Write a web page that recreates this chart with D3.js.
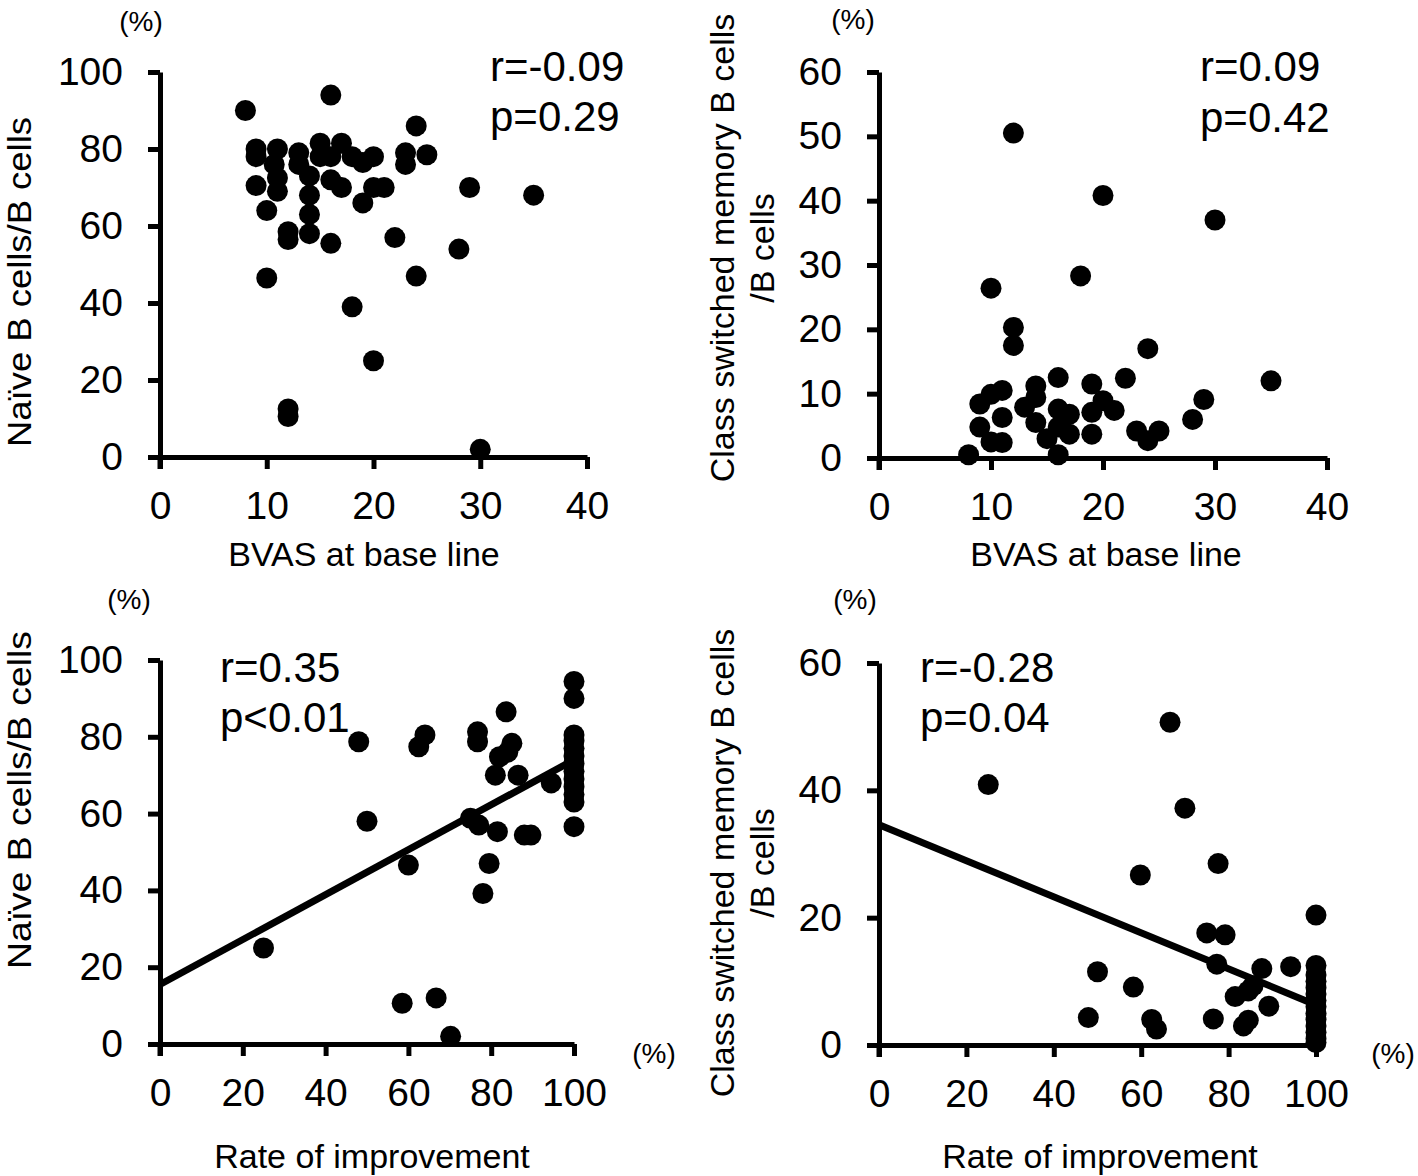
<!DOCTYPE html>
<html>
<head>
<meta charset="utf-8">
<script src="https://cdn.jsdelivr.net/npm/d3@7"></script>
<style>
  html, body { margin: 0; padding: 0; background: #fff; }
  svg text { font-family: "Liberation Sans", Arial, Helvetica, sans-serif; fill: #000; }
</style>
</head>
<body>
<svg id="chart" width="1418" height="1176"></svg>
<script>
// ---------- DATA ----------
// Panel A: BVAS at baseline vs Naive B cells/B cells (%)
const bvasA = [8,16,24,9,9,11,10.7,11,11,9,10,13,13,14,14,14,12,12,14,15,15,16,17,18,19,20,16,17,16,19,20,21,23,23,25,29,35,22,28,24,10,18,20,12,12,30];
const naiveA = [90,94,86,80,78,80,76,72.5,69,70.5,64,79,76,73,68,63,58.5,56.5,58,81.5,78,78,81.5,78,76.5,78,72,70,55.5,66,70,70,79,76,78.5,70,68,57,54,47,46.5,39,25,12.5,10.5,2];

// Panel B: BVAS at baseline vs Class switched memory B cells/B cells (%)
const bvasB = [12,20,30,18,10,12,12,24,35,22,16,19,14,16,14,11,10,9,11,9,11,10,8,13,14,15,17,17,19,19,20,21,16,23,24,25,28,29,16];
const csmB  = [50.5,40.8,37,28.3,26.4,20.3,17.5,17,12,12.4,12.5,11.5,11.2,7.6,9.4,10.5,9.9,8.4,6.3,4.8,2.4,2.5,0.5,7.9,5.5,3,6.8,3.7,3.7,7.1,8.9,7.4,0.5,4.2,2.7,4.2,6,9.1,4.8];

// Panel C: Rate of improvement vs Naive B cells/B cells (%)
const rateC  = [100,100,100,100,100,100,100,100,100,100,100,100,100,83.6,76.7,76.7,64,62.5,48,85,84,82,81,86.5,94.5,75,77,81.5,88,89.6,50,60,79.5,78,25,58.5,66.7,70.2];
const naiveC = [94.4,90,80.5,79,77,75,73,71,69,67,65,63,56.6,86.5,81.3,78.7,80.5,77.4,78.7,78.3,76,74.8,70,70,68,58.8,57,55.3,54.4,54.4,58,46.6,47,39.2,25,10.6,12,2];

// Panel D: Rate of improvement vs Class switched memory B cells/B cells (%)
const rateD = [25,66.6,70,77.6,59.8,100,75,79.2,77.3,50,87.6,94.2,58.2,85.6,81.5,84.5,89.2,47.9,62.4,63.5,76.5,83.4,84.5,100,100,100,100,100,100,100,100,100,100,100,100,100];
const csmD  = [40.9,50.7,37.2,28.5,26.7,20.4,17.6,17.3,12.7,11.5,12,12.3,9.1,9.3,7.6,8.5,6.1,4.3,4,2.5,4.1,3,3.9,12.5,11,10,9,8,7,6,5,4,3,2,1,0.4];

// Regression lines (x range and fitted y at ends)
const fitC = [[0, 15.5], [100, 74]];
const fitD = [[0, 34.6], [100, 6.3]];

// Tick values
const ticksBVAS = [0, 10, 20, 30, 40];
const ticksRate = [0, 20, 40, 60, 80, 100];
const ticksNaive = [0, 20, 40, 60, 80, 100];
const ticksCsmB = [0, 10, 20, 30, 40, 50, 60];
const ticksCsmD = [0, 20, 40, 60];

// Annotations
const statsA = ["r=-0.09", "p=0.29"];
const statsB = ["r=0.09", "p=0.42"];
const statsC = ["r=0.35", "p<0.01"];
const statsD = ["r=-0.28", "p=0.04"];

// ---------- DRAW ----------
const svg = d3.select("#chart");
const FONT = '"Liberation Sans", Arial, sans-serif';

const panels = [
  { xs: bvasA, ys: naiveA, xDom: [0, 40], yDom: [0, 100], xTicks: ticksBVAS, yTicks: ticksNaive,
    xr: [160, 587], yr: [457, 72], stats: statsA, statsX: 490, statsY: [81, 131],
    xLabel: "BVAS at base line", xLabelX: 364, yLabel: ["Naïve B cells/B cells"], yLabelLen: [330], fit: null,
    pctTop: [141, 31], pctRight: null, xLabelY: 566, yLabelX: [31], yLabelCy: 282 },
  { xs: bvasB, ys: csmB, xDom: [0, 40], yDom: [0, 60], xTicks: ticksBVAS, yTicks: ticksCsmB,
    xr: [879, 1327], yr: [458, 72], stats: statsB, statsX: 1200, statsY: [81, 132],
    xLabel: "BVAS at base line", xLabelX: 1106, yLabel: ["Class switched memory B cells", "/B cells"], yLabelLen: [null, null], fit: null,
    pctTop: [853, 29], pctRight: null, xLabelY: 566, yLabelX: [734, 774], yLabelCy: 248 },
  { xs: rateC, ys: naiveC, xDom: [0, 100], yDom: [0, 100], xTicks: ticksRate, yTicks: ticksNaive,
    xr: [160, 574], yr: [1044, 660], stats: statsC, statsX: 220, statsY: [682, 732],
    xLabel: "Rate of improvement", xLabelX: 372, yLabel: ["Naïve B cells/B cells"], yLabelLen: [338], fit: fitC,
    pctTop: [129, 609], pctRight: [654, 1063], xLabelY: 1168, yLabelX: [31], yLabelCy: 800 },
  { xs: rateD, ys: csmD, xDom: [0, 100], yDom: [0, 60], xTicks: ticksRate, yTicks: ticksCsmD,
    xr: [879, 1316], yr: [1045, 663], stats: statsD, statsX: 920, statsY: [682, 732],
    xLabel: "Rate of improvement", xLabelX: 1100, yLabel: ["Class switched memory B cells", "/B cells"], yLabelLen: [null, null], fit: fitD,
    pctTop: [855, 609], pctRight: [1393, 1063], xLabelY: 1168, yLabelX: [734, 774], yLabelCy: 863 }
];

panels.forEach(p => {
  const x = d3.scaleLinear().domain(p.xDom).range(p.xr);
  const y = d3.scaleLinear().domain(p.yDom).range(p.yr);
  const g = svg.append("g");

  // axes
  const yAxis = d3.axisLeft(y).tickValues(p.yTicks).tickSize(12).tickSizeOuter(0).tickPadding(25);
  const xAxis = d3.axisBottom(x).tickValues(p.xTicks).tickSize(12).tickSizeOuter(0).tickPadding(22);

  const gy = g.append("g").attr("transform", `translate(${x(p.xDom[0])},0)`).call(yAxis);
  const gx = g.append("g").attr("transform", `translate(0,${y(p.yDom[0])})`).call(xAxis);
  [gx, gy].forEach(a => {
    a.select(".domain").attr("stroke", "#000").attr("stroke-width", 5);
    a.selectAll(".tick line").attr("stroke", "#000").attr("stroke-width", 5);
    a.selectAll(".tick text").attr("font-size", 39).attr("fill", "#000").attr("font-family", FONT);
  });
  g.append("line").attr("x1", x(p.xDom[0])).attr("x2", x(p.xDom[0]))
    .attr("y1", y(p.yDom[0]) - 2).attr("y2", y(p.yDom[0]) + 12)
    .attr("stroke", "#000").attr("stroke-width", 5);

  // regression line
  if (p.fit) {
    g.append("line")
      .attr("x1", x(p.fit[0][0])).attr("y1", y(p.fit[0][1]))
      .attr("x2", x(p.fit[1][0])).attr("y2", y(p.fit[1][1]))
      .attr("stroke", "#000").attr("stroke-width", 7);
  }

  // points
  g.selectAll("circle.pt").data(p.xs.map((v, i) => [v, p.ys[i]]))
    .enter().append("circle").attr("class", "pt")
    .attr("cx", d => x(d[0])).attr("cy", d => y(d[1]))
    .attr("r", 10.5).attr("fill", "#000");

  // stats text
  p.stats.forEach((s, i) => {
    g.append("text").attr("x", p.statsX).attr("y", p.statsY[i])
      .attr("font-size", 42).text(s);
  });

  // (%) labels
  g.append("text").attr("x", p.pctTop[0]).attr("y", p.pctTop[1])
    .attr("text-anchor", "middle").attr("font-size", 28).text("(%)");
  if (p.pctRight) {
    g.append("text").attr("x", p.pctRight[0]).attr("y", p.pctRight[1])
      .attr("text-anchor", "middle").attr("font-size", 28).text("(%)");
  }

  // x label
  g.append("text").attr("x", p.xLabelX).attr("y", p.xLabelY)
    .attr("text-anchor", "middle").attr("font-size", 34).text(p.xLabel);

  // y label(s)
  p.yLabel.forEach((t, i) => {
    const tx = g.append("text")
      .attr("transform", `translate(${p.yLabelX[i]},${p.yLabelCy}) rotate(-90)`)
      .attr("text-anchor", "middle").attr("font-size", 34).text(t);
    if (p.yLabelLen[i]) tx.attr("textLength", p.yLabelLen[i]).attr("lengthAdjust", "spacingAndGlyphs");
  });
});
</script>
</body>
</html>
